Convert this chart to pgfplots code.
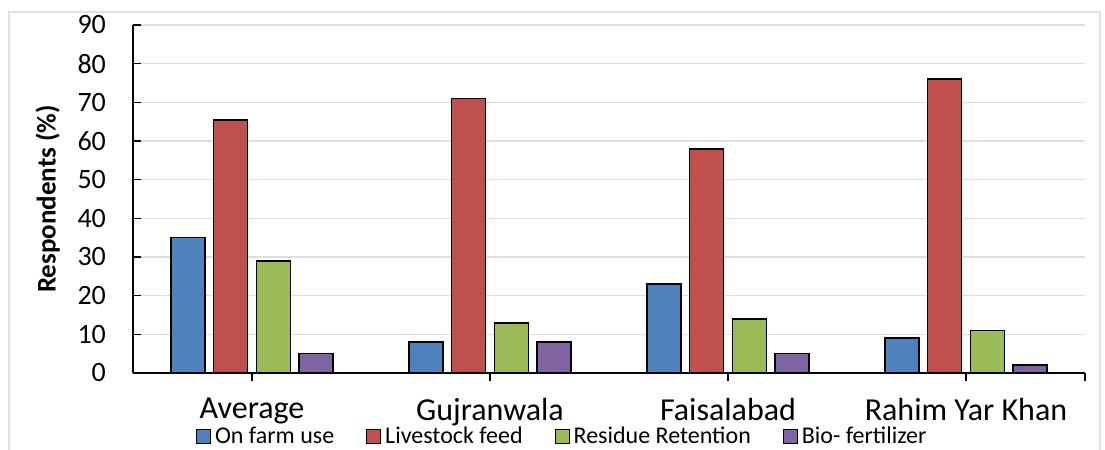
\documentclass[border=0pt]{standalone}
\usepackage{fontspec}
\setmainfont{Carlito}
\usepackage{pgfplots}
\pgfplotsset{compat=1.18}

\definecolor{cBlue}{HTML}{4F81BD}
\definecolor{cRed}{HTML}{C0504D}
\definecolor{cGreen}{HTML}{9BBB59}
\definecolor{cPurple}{HTML}{8064A2}

\begin{document}
\begin{tikzpicture}
  \useasboundingbox (-66.5pt,-38.5pt) rectangle (486pt,186.5pt);
  \draw[black!12, line width=0.6pt] (-62pt,-45pt) -- (-62pt,180.5pt) -- (483.5pt,180.5pt) -- (483.5pt,-45pt);
  \begin{axis}[
      at={(0,0)}, anchor=south west,
      scale only axis, width=476pt, height=174pt,
      xmin=-0.5, xmax=3.5, ymin=0, ymax=90,
      ybar=0pt, bar width=0.143,
      axis x line*=bottom, axis y line*=left,
      xtick={0,1,2,3,3.5},
      xticklabels={Average,Gujranwala,Faisalabad,Rahim Yar Khan,},
      xtick align=outside, ytick align=inside,
      major tick length=4pt,
      ytick={0,10,...,90},
      ymajorgrids, grid style={black!13, line width=0.8pt},
      axis line style={line width=0.8pt},
      tick style={black, line width=0.8pt},
      x tick label style={font=\fontsize{16}{18}\selectfont, yshift=-5pt},
      y tick label style={font=\fontsize{14}{16}\selectfont, xshift=-10pt},
      /pgf/number format/assume math mode=true,
      ylabel={\textbf{Respondents (\%)}},
      ylabel style={font=\fontsize{13.5}{15}\selectfont, yshift=2pt},
      legend style={at={(0.452,-0.142)}, anchor=north, draw=none, fill=none,
        legend columns=4, font=\fontsize{12}{14}\selectfont,
        /tikz/every even column/.append style={column sep=14pt},
        inner sep=0pt},
      legend image code/.code={\draw[#1, draw=black, line width=0.5pt] (0pt,-3.5pt) rectangle (7pt,3.5pt);},
    ]
    \addplot[fill=cBlue, draw=black, line width=0.8pt, bar shift=-0.27]
      coordinates {(0,35) (1,8) (2,23) (3,9)};
    \addplot[fill=cRed, draw=black, line width=0.8pt, bar shift=-0.09]
      coordinates {(0,65.5) (1,71) (2,58) (3,76)};
    \addplot[fill=cGreen, draw=black, line width=0.8pt, bar shift=0.09]
      coordinates {(0,29) (1,13) (2,14) (3,11)};
    \addplot[fill=cPurple, draw=black, line width=0.8pt, bar shift=0.27]
      coordinates {(0,5) (1,8) (2,5) (3,2)};
    \legend{On farm use, Livestock feed, Residue Retention, Bio- fertilizer}
  \end{axis}
\end{tikzpicture}
\end{document}
